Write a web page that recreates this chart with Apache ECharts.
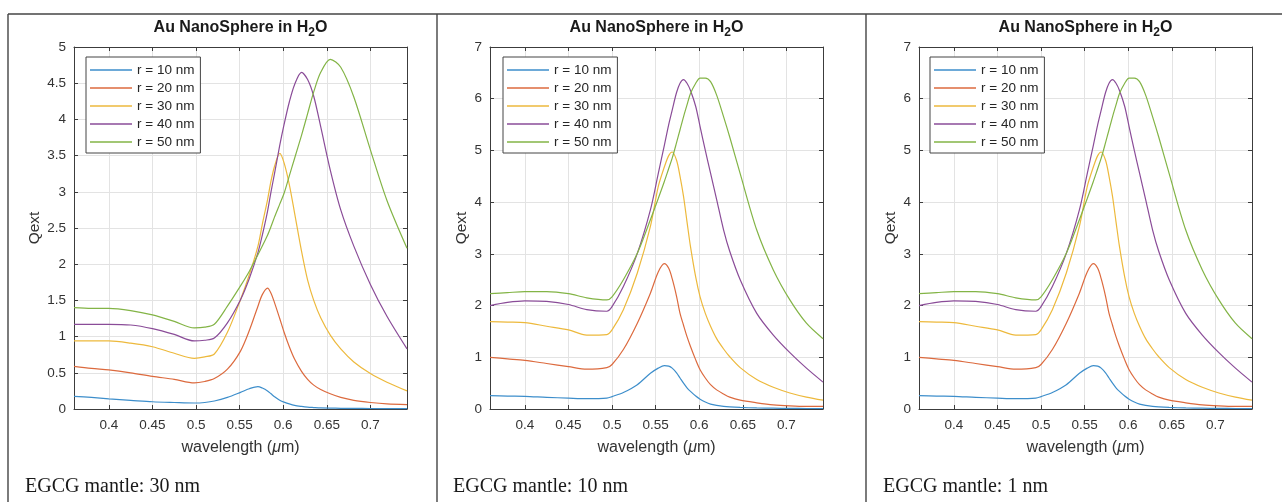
<!DOCTYPE html>
<html>
<head>
<meta charset="utf-8">
<script src="https://cdn.jsdelivr.net/npm/echarts@6/dist/echarts.min.js"></script>
<style>
  html, body { margin: 0; padding: 0; background: #fff; }
  #chart { width: 1282px; height: 502px; }
</style>
</head>
<body>
<div id="chart"></div>
<script>
// ---- data -------------------------------------------------------------
const seriesNames = ['r = 10 nm', 'r = 20 nm', 'r = 30 nm', 'r = 40 nm', 'r = 50 nm'];
const captions = ['EGCG mantle: 30 nm', 'EGCG mantle: 10 nm', 'EGCG mantle: 1 nm'];

// EGCG mantle 30 nm: wavelength (µm) and extinction efficiency per radius
const wl30 = [0.36, 0.38, 0.40, 0.425, 0.45, 0.475, 0.498, 0.51, 0.521, 0.536, 0.551, 0.561, 0.571, 0.576,
  0.582, 0.586, 0.59, 0.596, 0.601, 0.607, 0.613, 0.621, 0.628, 0.635, 0.643, 0.654, 0.666, 0.681, 0.7, 0.719, 0.742];
const q30_r10 = [0.175, 0.16, 0.14, 0.12, 0.10, 0.09, 0.083, 0.09, 0.11, 0.16, 0.23, 0.28, 0.31, 0.29,
  0.25, 0.21, 0.17, 0.12, 0.095, 0.07, 0.05, 0.035, 0.025, 0.02, 0.015, 0.012, 0.01, 0.008, 0.007, 0.006, 0.005];
const q30_r20 = [0.59, 0.56, 0.54, 0.50, 0.45, 0.41, 0.36, 0.38, 0.42, 0.55, 0.80, 1.08, 1.42, 1.58,
  1.67, 1.60, 1.47, 1.25, 1.06, 0.86, 0.69, 0.52, 0.41, 0.33, 0.27, 0.21, 0.16, 0.12, 0.09, 0.07, 0.06];
const q30_r30 = [0.94, 0.94, 0.94, 0.91, 0.86, 0.77, 0.70, 0.72, 0.76, 1.06, 1.51, 1.85, 2.25, 2.55,
  2.89, 3.15, 3.35, 3.53, 3.40, 3.10, 2.71, 2.18, 1.78, 1.50, 1.26, 1.02, 0.83, 0.65, 0.49, 0.37, 0.25];
const q30_r40 = [1.17, 1.17, 1.17, 1.16, 1.11, 1.03, 0.94, 0.95, 0.98, 1.19, 1.51, 1.80, 2.16, 2.40,
  2.73, 3.00, 3.25, 3.64, 3.93, 4.24, 4.48, 4.65, 4.55, 4.32, 3.90, 3.30, 2.75, 2.25, 1.72, 1.28, 0.83];
const q30_r50 = [1.40, 1.39, 1.39, 1.36, 1.30, 1.21, 1.12, 1.13, 1.17, 1.42, 1.70, 1.90, 2.13, 2.25,
  2.40, 2.52, 2.65, 2.83, 2.98, 3.22, 3.46, 3.78, 4.08, 4.38, 4.65, 4.83, 4.72, 4.31, 3.58, 2.88, 2.22];

// EGCG mantle 10 nm
const wl10 = [0.36, 0.38, 0.40, 0.425, 0.45, 0.471, 0.494, 0.5, 0.513, 0.529, 0.544, 0.553, 0.56, 0.565,
  0.569, 0.574, 0.578, 0.582, 0.586, 0.59, 0.596, 0.601, 0.607, 0.613, 0.62, 0.628, 0.635, 0.647, 0.666,
  0.685, 0.704, 0.723, 0.742];
const q10_r10 = [0.26, 0.25, 0.245, 0.225, 0.21, 0.20, 0.21, 0.24, 0.32, 0.47, 0.69, 0.79, 0.84, 0.83,
  0.79, 0.70, 0.60, 0.50, 0.41, 0.34, 0.25, 0.19, 0.135, 0.095, 0.07, 0.05, 0.04, 0.03, 0.02,
  0.015, 0.012, 0.01, 0.01];
const q10_r20 = [1.00, 0.97, 0.94, 0.88, 0.82, 0.77, 0.80, 0.86, 1.15, 1.66, 2.24, 2.65, 2.81, 2.72,
  2.52, 2.18, 1.85, 1.62, 1.40, 1.21, 0.95, 0.76, 0.60, 0.47, 0.37, 0.29, 0.23, 0.17, 0.12,
  0.08, 0.06, 0.05, 0.05];
const q10_r30 = [1.69, 1.68, 1.67, 1.60, 1.53, 1.43, 1.44, 1.53, 1.92, 2.63, 3.53, 4.30, 4.68, 4.90,
  4.97, 4.81, 4.50, 4.11, 3.62, 3.14, 2.55, 2.17, 1.85, 1.60, 1.36, 1.16, 1.01, 0.80, 0.57,
  0.42, 0.31, 0.23, 0.17];
const q10_r40 = [2.00, 2.06, 2.09, 2.08, 2.02, 1.92, 1.89, 1.98, 2.37, 3.01, 3.85, 4.55, 5.10, 5.50,
  5.78, 6.12, 6.30, 6.37, 6.30, 6.16, 5.85, 5.46, 5.00, 4.56, 4.05, 3.46, 3.05, 2.50, 1.85,
  1.43, 1.09, 0.79, 0.52];
const q10_r50 = [2.23, 2.25, 2.27, 2.27, 2.23, 2.15, 2.11, 2.17, 2.50, 3.01, 3.66, 4.07, 4.40, 4.65,
  4.85, 5.15, 5.40, 5.65, 5.88, 6.10, 6.30, 6.40, 6.40, 6.33, 6.07, 5.65, 5.26, 4.55, 3.46,
  2.69, 2.11, 1.66, 1.36];

// EGCG mantle 1 nm: spectra coincide with the 10 nm mantle
const wl1 = wl10;
const q1_r10 = q10_r10;
const q1_r20 = q10_r20;
const q1_r30 = q10_r30;
const q1_r40 = q10_r40;
const q1_r50 = q10_r50;

// ---- layout & style --------------------------------------------------
const lineColors = ['#3d8ecb', '#dc6a3e', '#edb93c', '#8a4c98', '#83b446'];
const axisColor = '#3c3c3c';
const gridColor = '#e3e3e3';
const sans = 'Liberation Sans, Arial, sans-serif';

const panels = [
  { wl: wl30, q: [q30_r10, q30_r20, q30_r30, q30_r40, q30_r50], yMax: 5, yStep: 0.5,
    left: 74, legendLeft: 86, nameGap: 31, capX: 25 },
  { wl: wl10, q: [q10_r10, q10_r20, q10_r30, q10_r40, q10_r50], yMax: 7, yStep: 1,
    left: 490, legendLeft: 503, nameGap: 20, capX: 453 },
  { wl: wl1, q: [q1_r10, q1_r20, q1_r30, q1_r40, q1_r50], yMax: 7, yStep: 1,
    left: 919, legendLeft: 930, nameGap: 20, capX: 883 }
];
const plotTop = 47, plotW = 333, plotH = 362;
const xMin = 0.36, xMax = 0.742;

const grids = [], xAxes = [], yAxes = [], series = [], legends = [], graphics = [];

panels.forEach((p, i) => {
  grids.push({ left: p.left, top: plotTop, width: plotW, height: plotH, show: false });

  const frameLine = { show: true, onZero: false, lineStyle: { color: axisColor, width: 1 } };
  const tick = { show: true, inside: true, length: 4, lineStyle: { color: axisColor } };

  xAxes.push({
    type: 'value', gridIndex: i, position: 'bottom', min: xMin, max: xMax, splitNumber: 8,
    axisLine: frameLine, axisTick: tick,
    axisLabel: { showMinLabel: false, showMaxLabel: false, color: '#333', fontSize: 13.5,
      fontFamily: sans, margin: 9 },
    splitLine: { show: true, lineStyle: { color: gridColor, width: 1 } },
    name: '{n|wavelength (}{i|\u03bc}{n|m)}', nameLocation: 'middle', nameGap: 31,
    nameTextStyle: { rich: {
      n: { fontSize: 16, fontFamily: sans, color: '#333' },
      i: { fontSize: 16, fontFamily: sans, fontStyle: 'italic', color: '#333' }
    } }
  });
  xAxes.push({
    type: 'value', gridIndex: i, position: 'top', min: xMin, max: xMax, splitNumber: 8,
    axisLine: frameLine, axisTick: tick, axisLabel: { show: false }, splitLine: { show: false }
  });

  yAxes.push({
    type: 'value', gridIndex: i, position: 'left', min: 0, max: p.yMax, interval: p.yStep,
    axisLine: frameLine, axisTick: tick,
    axisLabel: { color: '#333', fontSize: 13.5, fontFamily: sans, margin: 8 },
    splitLine: { show: true, lineStyle: { color: gridColor, width: 1 } },
    name: 'Qext', nameLocation: 'middle', nameGap: p.nameGap,
    nameTextStyle: { fontSize: 15.5, fontFamily: sans, color: '#333' }
  });
  yAxes.push({
    type: 'value', gridIndex: i, position: 'right', min: 0, max: p.yMax, interval: p.yStep,
    axisLine: frameLine, axisTick: tick, axisLabel: { show: false }, splitLine: { show: false }
  });

  seriesNames.forEach((name, s) => {
    series.push({
      type: 'line', name, xAxisIndex: 2 * i, yAxisIndex: 2 * i,
      data: p.wl.map((w, k) => [w, p.q[s][k]]),
      symbol: 'none', smooth: 0.3, silent: true,
      lineStyle: { width: 1.2, color: lineColors[s] },
      itemStyle: { color: lineColors[s] }
    });
  });

  legends.push({
    left: p.legendLeft, top: 57, orient: 'vertical', data: seriesNames,
    icon: 'rect', itemWidth: 42, itemHeight: 1.3, itemGap: 0,
    padding: [4, 6, 2, 4], borderColor: '#444', borderWidth: 1, borderRadius: 0,
    backgroundColor: '#fff', selectedMode: false,
    textStyle: { fontSize: 13.5, fontFamily: sans, color: '#262626', lineHeight: 18 }
  });

  // panel title with subscript
  graphics.push({
    type: 'text', x: p.left + plotW / 2, y: 28, z: 10,
    style: {
      text: '{a|Au NanoSphere in H}{s|2}{a|O}', align: 'center', verticalAlign: 'middle',
      rich: {
        a: { fontSize: 16, fontWeight: 'bold', fontFamily: sans, fill: '#1a1a1a', lineHeight: 20 },
        s: { fontSize: 12, fontWeight: 'bold', fontFamily: sans, fill: '#1a1a1a', lineHeight: 20,
             padding: [9, 0, 0, 0] }
      }
    }
  });

  // caption under the panel
  graphics.push({
    type: 'text', x: p.capX, y: 487, z: 10,
    style: { text: captions[i], align: 'left', verticalAlign: 'middle',
      fontSize: 20, fontFamily: 'Liberation Serif, Times New Roman, serif', fill: '#1a1a1a' }
  });
});

// outer frame and panel dividers
const frameStyle = { stroke: '#444', lineWidth: 1.4 };
[[8, 14, 1282, 14], [8, 14, 8, 502], [437, 14, 437, 502], [866, 14, 866, 502]].forEach(c => {
  graphics.push({ type: 'line', z: 10, shape: { x1: c[0], y1: c[1], x2: c[2], y2: c[3] }, style: frameStyle });
});

const chart = echarts.init(document.getElementById('chart'), null, { renderer: 'canvas' });
chart.setOption({
  animation: false,
  backgroundColor: '#fff',
  grid: grids,
  xAxis: xAxes,
  yAxis: yAxes,
  legend: legends,
  series: series,
  graphic: graphics
});
</script>
</body>
</html>
